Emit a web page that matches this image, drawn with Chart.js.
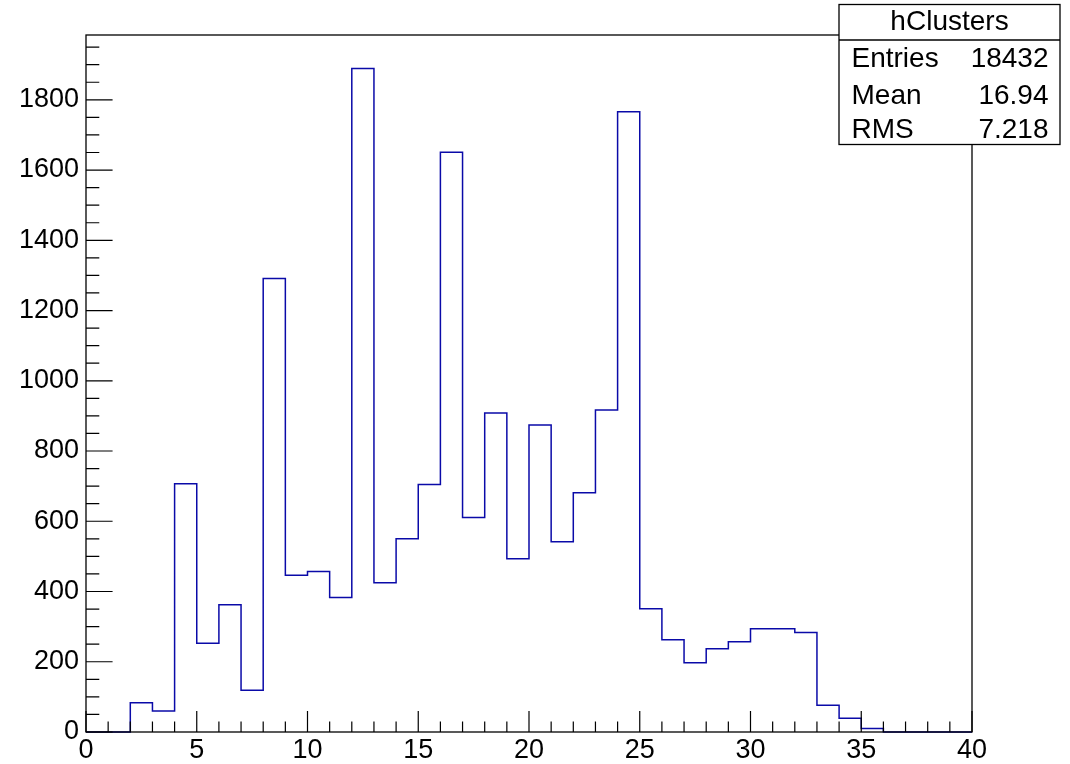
<!DOCTYPE html>
<html>
<head>
<meta charset="utf-8">
<title>hClusters</title>
<script src="https://cdn.jsdelivr.net/npm/chart.js@4.4.0/dist/chart.umd.min.js"></script>
<style>
    html, body { margin: 0; padding: 0; background: #fff; }
    canvas { display: block; }
</style>
</head>
<body>
<canvas id="histChart" width="1070" height="764"></canvas>
<script>
// bin contents of hClusters, one value per unit-wide bin from 0 to 40
const binEdges = [0, 1, 2, 3, 4, 5, 6, 7, 8, 9, 10, 11, 12, 13, 14, 15, 16, 17, 18, 19,
    20, 21, 22, 23, 24, 25, 26, 27, 28, 29, 30, 31, 32, 33, 34, 35, 36, 37, 38, 39, 40];
const binCounts = [0, 0, 83, 60, 707, 253, 362, 119, 1291, 446,
    457, 383, 1889, 425, 550, 705, 1651, 611, 908, 493,
    874, 542, 681, 917, 1766, 351, 263, 197, 237, 257,
    294, 294, 283, 76, 39, 10, 0, 0, 0, 0];
const xTickLabels = [0, 5, 10, 15, 20, 25, 30, 35, 40];
const yTickLabels = [0, 200, 400, 600, 800, 1000, 1200, 1400, 1600, 1800];

const statsTitle = 'hClusters';
const statsRows = [
    ['Entries', '18432'],
    ['Mean', '16.94'],
    ['RMS', '7.218']
];

const FONT = '"Liberation Sans", Arial, Helvetica, sans-serif';

// step outline: each bin holds its value until the next edge
const points = binEdges.map((x, i) => ({
    x: x,
    y: i < binCounts.length ? binCounts[i] : binCounts[binCounts.length - 1]
}));

// ROOT style frame with inward ticks + stats box
const rootFrame = {
    id: 'rootFrame',
    afterDatasetsDraw(chart) {
        const { ctx, chartArea: a, scales: { x, y } } = chart;
        ctx.save();
        ctx.strokeStyle = '#000';
        ctx.lineWidth = 1.3;
        ctx.strokeRect(a.left, a.top, a.right - a.left, a.bottom - a.top);

        ctx.lineWidth = 1.2;
        ctx.beginPath();
        const xMajor = (a.bottom - a.top) * 0.03;
        for (let v = 0; v <= 40; v++) {
            const px = x.getPixelForValue(v);
            const len = v % 5 === 0 ? xMajor : xMajor / 2;
            ctx.moveTo(px, a.bottom);
            ctx.lineTo(px, a.bottom - len);
        }
        const yMajor = (a.right - a.left) * 0.03;
        for (let v = 0; v <= y.max; v += 50) {
            const py = y.getPixelForValue(v);
            const len = v % 200 === 0 ? yMajor : yMajor / 2;
            ctx.moveTo(a.left, py);
            ctx.lineTo(a.left + len, py);
        }
        ctx.stroke();
        ctx.restore();
    },
    afterDraw(chart) {
        const { ctx } = chart;
        const bx = 839, by = 4.5, bw = 221, bh = 140;
        ctx.save();
        ctx.fillStyle = '#fff';
        ctx.fillRect(bx, by, bw, bh);
        ctx.strokeStyle = '#000';
        ctx.lineWidth = 1.3;
        ctx.strokeRect(bx, by, bw, bh);
        ctx.beginPath();
        ctx.moveTo(bx, 40);
        ctx.lineTo(bx + bw, 40);
        ctx.stroke();

        ctx.fillStyle = '#000';
        ctx.textBaseline = 'alphabetic';
        ctx.font = '28px ' + FONT;
        ctx.textAlign = 'center';
        ctx.fillText(statsTitle, bx + bw / 2, 30);
        const baselines = [67, 103.5, 137.5];
        statsRows.forEach((row, i) => {
            ctx.textAlign = 'left';
            ctx.fillText(row[0], 851.5, baselines[i]);
            ctx.textAlign = 'right';
            ctx.fillText(row[1], 1048.5, baselines[i]);
        });
        ctx.restore();
    }
};

new Chart(document.getElementById('histChart'), {
    type: 'line',
    data: {
        datasets: [{
            label: 'hClusters',
            data: points,
            stepped: 'before',
            borderColor: '#0a0aa8',
            borderWidth: 1.5,
            pointRadius: 0,
            fill: false,
            clip: 4
        }]
    },
    options: {
        responsive: false,
        animation: false,
        layout: { padding: { top: 35, right: 98, left: 0, bottom: 0 } },
        plugins: {
            legend: { display: false },
            tooltip: { enabled: false }
        },
        scales: {
            x: {
                type: 'linear',
                min: 0,
                max: 40,
                afterFit: s => { s.height = 32; },
                afterBuildTicks: s => {
                    s.ticks = xTickLabels.map(v => ({ value: v }));
                },
                grid: { display: false, drawTicks: false },
                border: { display: false },
                ticks: {
                    padding: 2,
                    color: '#000',
                    maxRotation: 0,
                    autoSkip: false,
                    font: { family: FONT, size: 27 },
                    callback: v => String(v)
                }
            },
            y: {
                type: 'linear',
                min: 0,
                max: 1984.5,
                afterFit: s => { s.width = 86; },
                afterBuildTicks: s => {
                    s.ticks = yTickLabels.map(v => ({ value: v }));
                },
                grid: { display: false, drawTicks: false },
                border: { display: false },
                ticks: {
                    padding: 7,
                    color: '#000',
                    autoSkip: false,
                    font: { family: FONT, size: 27 },
                    callback: v => String(v)
                }
            }
        }
    },
    plugins: [rootFrame]
});
</script>
</body>
</html>
